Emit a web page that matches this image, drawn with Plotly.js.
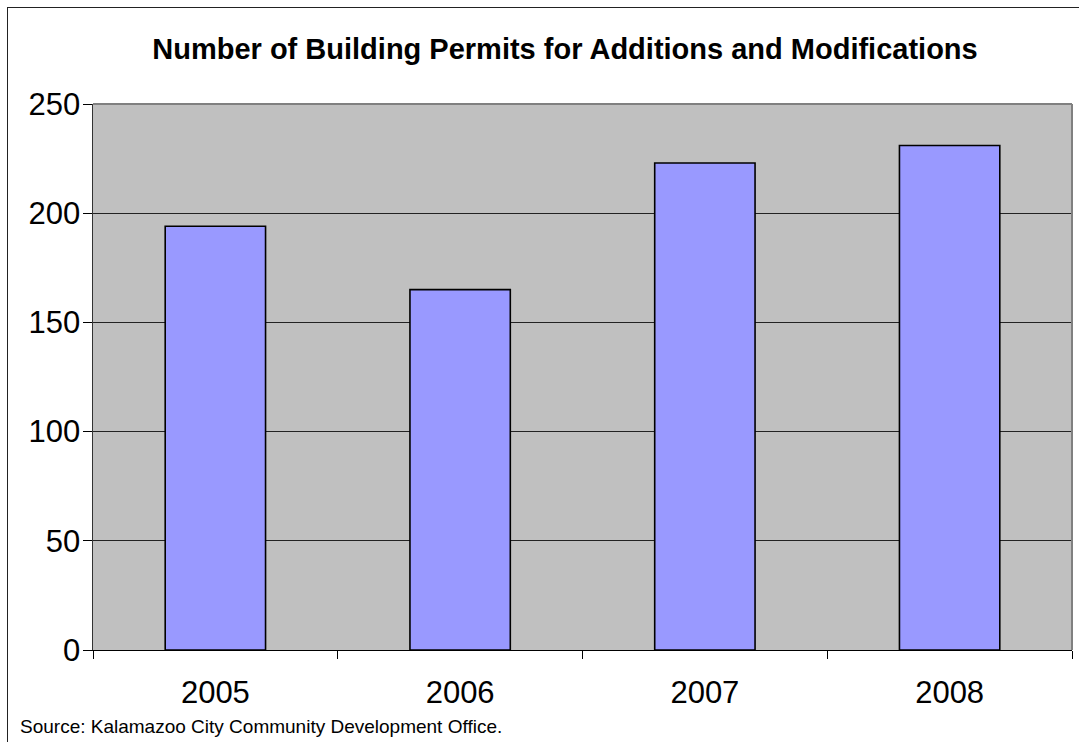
<!DOCTYPE html>
<html>
<head>
<meta charset="utf-8">
<script src="https://cdn.plot.ly/plotly-3.0.1.min.js"></script>
<style>
  html, body { margin: 0; padding: 0; background: #ffffff; }
  #chart { width: 1079px; height: 742px; position: absolute; left: 0; top: 0; }
  #frame { position: absolute; left: 7px; top: 7px; width: 1200px; height: 900px;
           border-left: 1px solid #222; border-top: 1px solid #222; pointer-events: none; }
</style>
</head>
<body>
<div id="chart"></div>
<div id="frame"></div>
<script>
const years = ['2005', '2006', '2007', '2008'];
const permits = [194, 165, 223, 231];
const yTicks = [0, 50, 100, 150, 200, 250];
const titleText = 'Number of Building Permits for Additions and Modifications';
const sourceText = 'Source: Kalamazoo City Community Development Office.';

const font = 'Arial, "Liberation Sans", sans-serif';

const trace = {
  type: 'bar',
  x: years,
  y: permits,
  marker: { color: '#9999FF', line: { color: '#000000', width: 1.6 } },
  hoverinfo: 'x+y'
};

const layout = {
  width: 1079,
  height: 742,
  margin: { l: 93, r: 7, t: 104, b: 92, pad: 0 },
  paper_bgcolor: 'rgba(0,0,0,0)',
  plot_bgcolor: '#C0C0C0',
  bargap: 0.59,
  showlegend: false,
  font: { family: font, color: '#000000' },
  title: {
    text: '<b>' + titleText + '</b>',
    font: { family: font, size: 29, color: '#000000' },
    xref: 'container', x: 565 / 1079, xanchor: 'center',
    yref: 'container', y: 1 - 49 / 742, yanchor: 'middle'
  },
  xaxis: {
    type: 'category',
    tickson: 'boundaries',
    ticks: 'outside', ticklen: 8, tickwidth: 1, tickcolor: '#000000',
    showline: true, linecolor: '#000000', linewidth: 1,
    showgrid: false,
    tickfont: { family: font, size: 31, color: '#000000' },
    ticklabelstandoff: 15,
    mirror: false
  },
  yaxis: {
    range: [0, 250],
    tickvals: yTicks,
    ticks: 'outside', ticklen: 9, tickwidth: 1, tickcolor: '#000000',
    showline: true, linecolor: '#333333', linewidth: 1.5,
    showgrid: true, gridcolor: '#222222', gridwidth: 1,
    zeroline: false,
    tickfont: { family: font, size: 31, color: '#000000' },
    ticklabelstandoff: -4
  },
  shapes: [
    { type: 'line', xref: 'paper', yref: 'paper', x0: 0, x1: 1, y0: 1, y1: 1,
      line: { color: '#808080', width: 2 } },
    { type: 'line', xref: 'paper', yref: 'paper', x0: 1, x1: 1, y0: 0, y1: 1,
      line: { color: '#808080', width: 2 } }
  ],
  annotations: [
    {
      text: sourceText,
      xref: 'paper', yref: 'paper',
      x: (18 - 93) / 979, xanchor: 'left',
      y: -(739 - 650) / 546, yanchor: 'bottom',
      showarrow: false,
      font: { family: font, size: 19, color: '#000000' }
    }
  ]
};

Plotly.newPlot('chart', [trace], layout, { displayModeBar: false, staticPlot: true });
</script>
</body>
</html>
